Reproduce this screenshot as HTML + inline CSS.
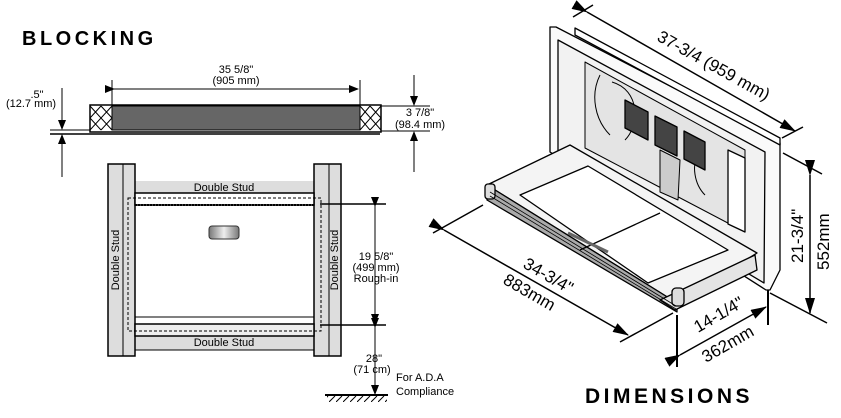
<!DOCTYPE html>
<html><head><meta charset="utf-8"><style>
html,body{margin:0;padding:0;background:#fff;}
svg{display:block;font-family:"Liberation Sans",Arial,sans-serif;}
</style></head><body>
<svg width="841" height="418" viewBox="0 0 841 418" xmlns="http://www.w3.org/2000/svg">
<defs>
<marker id="a" markerWidth="10" markerHeight="8" refX="9" refY="4" orient="auto" markerUnits="userSpaceOnUse"><path d="M0,0 L10,4 L0,8 Z" fill="#000"/></marker>
<marker id="b" markerWidth="16" markerHeight="10" refX="15" refY="5" orient="auto" markerUnits="userSpaceOnUse"><path d="M0,0 L16,5 L0,10 Z" fill="#000"/></marker>
<linearGradient id="g" x1="0" x2="1"><stop offset="0" stop-color="#777"/><stop offset="0.5" stop-color="#eee"/><stop offset="1" stop-color="#777"/></linearGradient>
<pattern id="h" width="7" height="6" patternUnits="userSpaceOnUse"><path d="M0,6 L6,0" stroke="#000" stroke-width="1"/></pattern>
</defs>

<text x="22" y="45" font-size="20" font-weight="bold" letter-spacing="3.5">BLOCKING</text>

<rect x="90" y="105" width="291" height="27" fill="#fff" stroke="#000" stroke-width="1.5"/>
<rect x="112" y="106" width="248" height="24" fill="#666" stroke="#000"/>
<g stroke="#000" stroke-width="1" fill="none">
<path d="M90,106 L112,130 M112,106 L90,130 M101,106 L112,118 M101,106 L90,118 M101,130 L90,118 M101,130 L112,118"/>
<path d="M360,106 L381,130 M381,106 L360,130 M370,106 L381,118 M370,106 L360,118 M370,130 L360,118 M370,130 L381,118"/>
<line x1="50" y1="130" x2="90" y2="130"/>
<line x1="50" y1="134" x2="380" y2="134" stroke-width="1.5"/>
<line x1="381" y1="106" x2="430" y2="106"/>
<line x1="381" y1="131" x2="430" y2="131"/>
<line x1="112" y1="80" x2="112" y2="105"/>
<line x1="360" y1="80" x2="360" y2="105"/>
<line x1="114" y1="89" x2="358" y2="89" marker-end="url(#a)" marker-start="url(#a)"/>
<line x1="62" y1="88" x2="62" y2="129" marker-end="url(#a)"/>
<line x1="62" y1="177" x2="62" y2="135" marker-end="url(#a)"/>
<line x1="414" y1="75" x2="414" y2="105" marker-end="url(#a)"/>
<line x1="414" y1="172" x2="414" y2="132" marker-end="url(#a)"/>
</g>
<g font-size="11" text-anchor="middle">
<text x="236" y="73">35 5/8"</text>
<text x="236" y="84">(905 mm)</text>
<text x="37" y="98">.5"</text>
<text x="31" y="107">(12.7 mm)</text>
<text x="420" y="116">3 7/8"</text>
<text x="420" y="128">(98.4 mm)</text>
</g>

<g stroke="#000" fill="#ddd">
<rect x="135" y="181" width="179" height="12" stroke="none"/>
<rect x="135" y="336" width="179" height="14" stroke-width="1"/>
<rect x="108" y="164" width="27" height="192" stroke-width="1.5"/>
<rect x="314" y="164" width="27" height="192" stroke-width="1.5"/>
</g>
<g stroke="#000" fill="none">
<line x1="123" y1="164" x2="123" y2="356"/>
<line x1="329" y1="164" x2="329" y2="356"/>
<rect x="135" y="193" width="179" height="12" stroke-width="1.5" fill="#fff"/>
<line x1="135" y1="317" x2="314" y2="317"/>
<rect x="135" y="324" width="179" height="12" stroke-width="1.5" fill="#eee"/>
<rect x="128" y="198" width="193" height="133" stroke-dasharray="3,2"/>
<line x1="135" y1="205" x2="314" y2="205" stroke-dasharray="2,1" stroke-width="2"/>
<line x1="320" y1="204" x2="386" y2="204" stroke-width="1.5"/>
<line x1="320" y1="325" x2="386" y2="325" stroke-width="1.5"/>
<line x1="375" y1="206" x2="375" y2="323" marker-start="url(#a)" marker-end="url(#a)"/>
<line x1="375" y1="327" x2="375" y2="394" marker-start="url(#a)" marker-end="url(#a)"/>
<line x1="325" y1="395" x2="388" y2="395" stroke-width="2"/>
</g>
<rect x="327" y="396" width="60" height="6" fill="url(#h)"/>
<rect x="209" y="226" width="30" height="13" rx="3" fill="url(#g)" stroke="#333"/>
<g font-size="11" text-anchor="middle">
<text x="224" y="191">Double Stud</text>
<text x="224" y="346">Double Stud</text>
<text transform="translate(119,260) rotate(-90)">Double Stud</text>
<text transform="translate(338,260) rotate(-90)">Double Stud</text>
<text x="376" y="260">19 5/8"</text>
<text x="376" y="271">(499 mm)</text>
<text x="376" y="282">Rough-in</text>
<text x="374" y="362">28"</text>
<text x="372" y="373">(71 cm)</text>
</g>
<text x="396" y="381" font-size="11">For A.D.A</text>
<text x="396" y="395" font-size="11">Compliance</text>

<!-- product -->
<g stroke="#000" stroke-width="1.3" stroke-linejoin="round">
<polygon points="550,27 556,27 780,143 780,270 770,290 766,290 550,152" fill="#fafafa"/>
<polygon points="575,28 780,138 780,145 575,35" fill="#fff"/>
<polygon points="558,40 765,152 764,283 558,160" fill="#f2f2f2"/>
<polygon points="585,62 745,150 745,232 585,148" fill="#e4e4e4" stroke-width="1"/>
<path d="M600,75 C590,95 595,120 610,135 M612,82 C640,90 640,125 625,140 M700,150 C690,165 695,185 705,195" fill="none" stroke-width="1"/>
<polygon points="625,100 648,112 648,140 625,128" fill="#444"/>
<polygon points="655,116 677,127 677,156 655,145" fill="#444"/>
<polygon points="684,131 705,142 705,170 684,159" fill="#444"/>
<polygon points="660,150 680,160 678,200 660,192" fill="#ccc" stroke-width="1"/>
<polygon points="728,150 745,158 745,232 728,224" fill="#fff"/>
<!-- bed -->
<polygon points="487,185 570,145 757,253 677,303" fill="#f4f4f4"/>
<polygon points="487,185 677,303 677,312 487,200" fill="#aaa"/>
<polygon points="520,195 588,166 728,250 648,283" fill="#fff"/>
<polygon points="660,300 755,255 757,270 675,310" fill="#e4e4e4"/>
<line x1="580" y1="250" x2="660" y2="213" fill="none"/>
<rect x="672" y="288" width="12" height="18" rx="4" fill="#ddd"/>
<rect x="485" y="184" width="10" height="15" rx="3" fill="#ddd"/>
<line x1="568" y1="233" x2="608" y2="252" stroke-width="3" stroke="#666"/>
</g>
<g stroke="#000" stroke-width="0.8" fill="none">
<line x1="490" y1="192" x2="676" y2="306"/>
<line x1="490" y1="196" x2="676" y2="309"/>
</g>

<g stroke="#000" stroke-width="1.5" fill="none">
<line x1="573" y1="17" x2="593" y2="5"/>
<line x1="782" y1="138" x2="803" y2="127"/>
<line x1="587" y1="12" x2="795" y2="131" marker-start="url(#b)" marker-end="url(#b)"/>
<line x1="783" y1="153" x2="822" y2="174"/>
<line x1="770" y1="293" x2="827" y2="323"/>
<line x1="810" y1="175" x2="810" y2="313" marker-start="url(#b)" marker-end="url(#b)"/>
<line x1="433" y1="233" x2="483" y2="205"/>
<line x1="620" y1="342" x2="673" y2="313"/>
<line x1="444" y1="230" x2="628" y2="335" marker-start="url(#b)" marker-end="url(#b)"/>
<line x1="677" y1="315" x2="677" y2="367" stroke-width="2"/>
<line x1="768" y1="290" x2="768" y2="325" stroke-width="2"/>
<line x1="680" y1="355" x2="766" y2="307" marker-start="url(#b)" marker-end="url(#b)"/>
</g>
<g font-size="17">
<text transform="translate(656,40) rotate(29)">37-3/4 (959 mm)</text>
<text transform="translate(522,267) rotate(30)">34-3/4"</text>
<text transform="translate(502,283) rotate(30)">883mm</text>
<text transform="translate(698,333) rotate(-30)">14-1/4"</text>
<text transform="translate(706,363) rotate(-30)">362mm</text>
<text transform="translate(803,263) rotate(-90)">21-3/4"</text>
<text transform="translate(829,270) rotate(-90)">552mm</text>
</g>
<text x="585" y="403" font-size="21" font-weight="bold" letter-spacing="3.5">DIMENSIONS</text>
</svg>
</body></html>
